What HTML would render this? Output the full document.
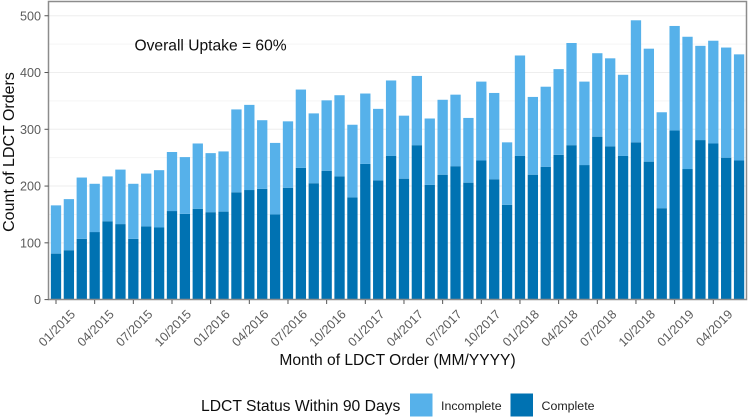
<!DOCTYPE html>
<html lang="en">
<head>
<meta charset="utf-8">
<title>LDCT Orders by Month</title>
<style>
  html, body { margin: 0; padding: 0; background: #fff; }
  body { width: 749px; height: 418px; overflow: hidden; }
  svg { display: block; font-family: "Liberation Sans", Arial, sans-serif; }
</style>
</head>
<body>
<svg id="chart" width="749" height="418" viewBox="0 0 749 418" xmlns="http://www.w3.org/2000/svg">
  <defs>
    <filter id="soft" x="-2%" y="-2%" width="104%" height="104%"><feGaussianBlur stdDeviation="0.3"/></filter>
  </defs>
  <g filter="url(#soft)">
    <g id="grid"></g>
    <g id="bars"></g>
    <rect x="48.5" y="1.5" width="698" height="298" fill="none" stroke="#8c8c8c" stroke-width="1.5"/>
    <g id="y-axis"></g>
    <g id="x-axis"></g>
    <text x="134.5" y="50.5" font-size="15.6" fill="#111">Overall Uptake = 60%</text>
    <text transform="translate(14 152) rotate(-90)" text-anchor="middle" font-size="16" fill="#111">Count of LDCT Orders</text>
    <text x="397.5" y="365" text-anchor="middle" font-size="15.6" fill="#111">Month of LDCT Order (MM/YYYY)</text>
    <g>
      <text x="201" y="411" font-size="15.7" fill="#111">LDCT Status Within 90 Days</text>
      <rect x="410" y="393.5" width="22.5" height="23" fill="#56b1ea"/>
      <text x="441" y="410" font-size="12.4" fill="#222">Incomplete</text>
      <rect x="510.5" y="393.5" width="22.5" height="23" fill="#0072b2"/>
      <text x="541.5" y="410" font-size="12.4" fill="#222">Complete</text>
    </g>
  </g>
</svg>
<script>
const months = ["01/2015","02/2015","03/2015","04/2015","05/2015","06/2015","07/2015","08/2015","09/2015","10/2015","11/2015","12/2015","01/2016","02/2016","03/2016","04/2016","05/2016","06/2016","07/2016","08/2016","09/2016","10/2016","11/2016","12/2016","01/2017","02/2017","03/2017","04/2017","05/2017","06/2017","07/2017","08/2017","09/2017","10/2017","11/2017","12/2017","01/2018","02/2018","03/2018","04/2018","05/2018","06/2018","07/2018","08/2018","09/2018","10/2018","11/2018","12/2018","01/2019","02/2019","03/2019","04/2019","05/2019","06/2019"];
const complete = [81,87,107,119,138,133,107,129,127,156,151,160,154,155,189,193,195,150,197,232,205,227,217,180,239,210,253,213,272,202,220,235,206,245,212,167,253,220,234,255,272,237,287,270,253,277,243,161,298,230,281,275,250,245];
const incomplete = [85,90,108,85,79,96,97,93,101,104,100,115,104,106,146,150,121,126,117,138,123,124,143,128,124,126,133,111,122,117,132,126,114,139,152,110,177,137,141,151,180,147,147,155,143,215,199,169,184,233,166,181,194,187];
const yTicks = [0,100,200,300,400,500];
const yMinorTicks = [50,150,250,350,450];
const xTickEvery = 3;

const NS = "http://www.w3.org/2000/svg";
const yScale = v => 299.6 - v * 0.5677;
const step = 12.888;
const xScale = i => 56 + i * step;
const barW = step * 0.8;

function mk(tag, attrs, parent) {
  const el = document.createElementNS(NS, tag);
  for (const k in attrs) el.setAttribute(k, attrs[k]);
  parent.appendChild(el);
  return el;
}

const grid = document.getElementById("grid");
const barsG = document.getElementById("bars");
const yAxis = document.getElementById("y-axis");
const xAxis = document.getElementById("x-axis");

yMinorTicks.forEach(v => {
  const l = mk("line", {x1: 49, x2: 746, y1: yScale(v), y2: yScale(v), stroke: "#f5f5f5", "stroke-width": 1}, grid);
  
  
});

yTicks.forEach(v => {
  const y = yScale(v);
  if (v > 0) {
    const l = mk("line", {x1: 49, x2: 746, y1: y, y2: y, stroke: "#eeeeee", "stroke-width": 1}, grid);
    
    
  }
  const t = mk("line", {x1: 44.5, x2: 48.5, y1: y, y2: y, stroke: "#555", "stroke-width": 1}, yAxis);
  
  
  const lab = mk("text", {x: 41, y: y + 4.5, "text-anchor": "end", "font-size": 12.6, fill: "#5c5c5c"}, yAxis);
  
  
  lab.textContent = String(v);
});

months.forEach((m, i) => {
  const x = xScale(i);
  const c = mk("rect", {x: x - barW / 2, y: yScale(complete[i]), width: barW, height: yScale(0) - yScale(complete[i]), fill: "#0072b2"}, barsG);
  
  
  const total = complete[i] + incomplete[i];
  const n = mk("rect", {x: x - barW / 2, y: yScale(total), width: barW, height: yScale(complete[i]) - yScale(total), fill: "#56b1ea"}, barsG);
  
  
  if (i % xTickEvery === 0 && i < months.length - 2) {
    const t = mk("line", {x1: x, x2: x, y1: 300, y2: 304, stroke: "#555", "stroke-width": 1}, xAxis);
    
    
    const lab = mk("text", {"text-anchor": "end", "font-size": 12.6, fill: "#5c5c5c", transform: "translate(" + (x + 20) + " 315) rotate(-45)"}, xAxis);
    
    
    lab.textContent = m;
  }
});
</script>
</body>
</html>
